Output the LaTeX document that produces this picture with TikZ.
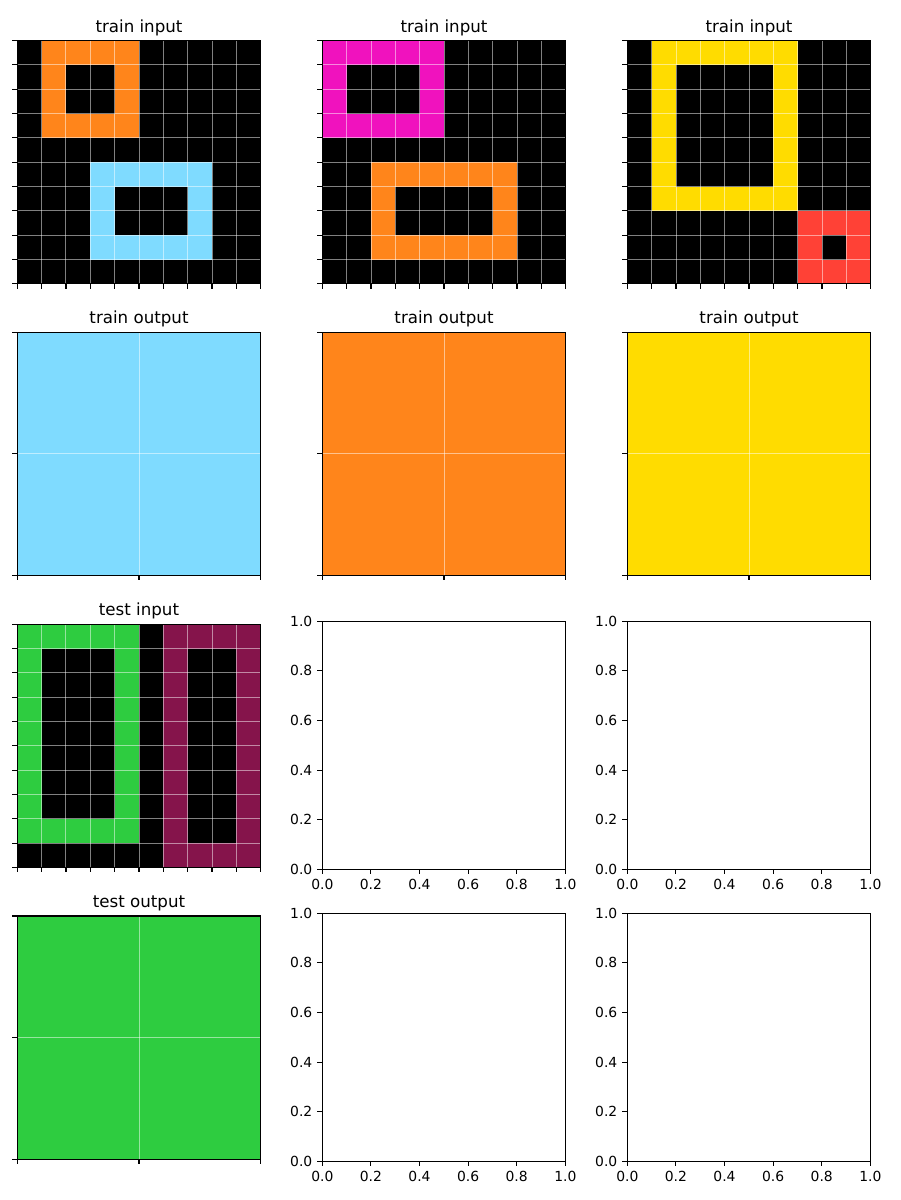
\documentclass[tikz,border=0pt]{standalone}
\usepackage{fontspec}
\setmainfont{DejaVu Sans}
\definecolor{corange}{HTML}{FF851B}
\definecolor{cblue}{HTML}{7FDBFF}
\definecolor{cmagenta}{HTML}{F012BE}
\definecolor{cyellow}{HTML}{FFDC00}
\definecolor{cred}{HTML}{FF4136}
\definecolor{cgreen}{HTML}{2ECC40}
\definecolor{cmaroon}{HTML}{85144B}
\tikzset{
 gridl/.style={draw=white, draw opacity=0.5, line width=0.7pt},
 spine/.style={draw=black, line width=0.8pt},
 tickm/.style={draw=black, line width=0.8pt},
 ttl/.style={anchor=base, inner sep=0pt, font=\fontsize{12}{14}\selectfont},
 tlab/.style={inner sep=0pt, font=\fontsize{10}{12}\selectfont},
}
% #1 name, #2 x0, #3 y0, #4 n, #5 cell, #6 title, #7 fills
\newcommand{\gpanel}[7]{%
 \node[ttl] (#1) at (#2+121.7,#3-8.3) {#6};
 \begin{scope}[shift={(#2,#3)}, x=#5, y=-#5]
  #7
  \pgfmathtruncatemacro\gm{#4-1}
  \foreach \i in {1,...,\gm} {\draw[gridl] (\i,0) -- (\i,#4); \draw[gridl] (0,\i) -- (#4,\i);}
  \draw[spine] (0,0) rectangle (#4,#4);
  \foreach \i in {0,...,#4} {\draw[tickm] (\i,#4) -- ++(0pt,-3.5pt); \draw[tickm] (0,\i) -- ++(-3.5pt,0pt);}
 \end{scope}}
% #1 name prefix, #2 x0, #3 ybottom
\newcommand{\eaxes}[3]{%
 \begin{scope}[shift={(#2,#3)}, x=174.96pt, y=178.56pt]
  \draw[spine] (0,0) rectangle (1,1);
  \foreach \v [count=\k] in {0.0,0.2,0.4,0.6,0.8,1.0} {
    \draw[tickm] (\v,0) -- ++(0pt,-3.5pt);
    \draw[tickm] (0,\v) -- ++(-3.5pt,0pt);
    \node[tlab, anchor=north] (#1x\k) at ([yshift=-7pt]\v,0) {\v};
    \node[tlab, anchor=east] (#1y\k) at ([xshift=-7pt]0,\v) {\v};
  }
 \end{scope}}
\begin{document}
\begin{tikzpicture}[x=0.72pt, y=-0.72pt]
\useasboundingbox (0,0) rectangle (900,1200);
\fill[white] (0,0) rectangle (900,1200);
% row 1: train inputs
\gpanel{ta}{17.3}{40.5}{10}{17.525pt}{train input}{%
  \fill[black] (0,0) rectangle (10,10);
  \fill[corange] (1,0) rectangle (5,4); \fill[black] (2,1) rectangle (4,3);
  \fill[cblue] (3,5) rectangle (8,9); \fill[black] (4,6) rectangle (7,8);}
\gpanel{tb}{322.3}{40.5}{10}{17.525pt}{train input}{%
  \fill[black] (0,0) rectangle (10,10);
  \fill[cmagenta] (0,0) rectangle (5,4); \fill[black] (1,1) rectangle (4,3);
  \fill[corange] (2,5) rectangle (8,9); \fill[black] (3,6) rectangle (7,8);}
\gpanel{tc}{627.3}{40.5}{10}{17.525pt}{train input}{%
  \fill[black] (0,0) rectangle (10,10);
  \fill[cyellow] (1,0) rectangle (7,7); \fill[black] (2,1) rectangle (6,6);
  \fill[cred] (7,7) rectangle (10,10); \fill[black] (8,8) rectangle (9,9);}
% row 2: train outputs
\gpanel{oa}{17.3}{332.2}{2}{87.624pt}{train output}{\fill[cblue] (0,0) rectangle (2,2);}
\gpanel{ob}{322.3}{332.2}{2}{87.624pt}{train output}{\fill[corange] (0,0) rectangle (2,2);}
\gpanel{oc}{627.3}{332.2}{2}{87.624pt}{train output}{\fill[cyellow] (0,0) rectangle (2,2);}
% row 3
\gpanel{ti}{17.3}{624.2}{10}{17.525pt}{test input}{%
  \fill[black] (0,0) rectangle (10,10);
  \fill[cgreen] (0,0) rectangle (5,9); \fill[black] (1,1) rectangle (4,8);
  \fill[cmaroon] (6,0) rectangle (10,10); \fill[black] (7,1) rectangle (9,9);}
\eaxes{ea}{322.3}{869.3}
\eaxes{eb}{627.3}{869.3}
% row 4
\gpanel{to}{17.3}{916.0}{2}{87.624pt}{test output}{\fill[cgreen] (0,0) rectangle (2,2);}
\eaxes{ec}{322.3}{1161.3}
\eaxes{ed}{627.3}{1161.3}
\end{tikzpicture}
\end{document}
